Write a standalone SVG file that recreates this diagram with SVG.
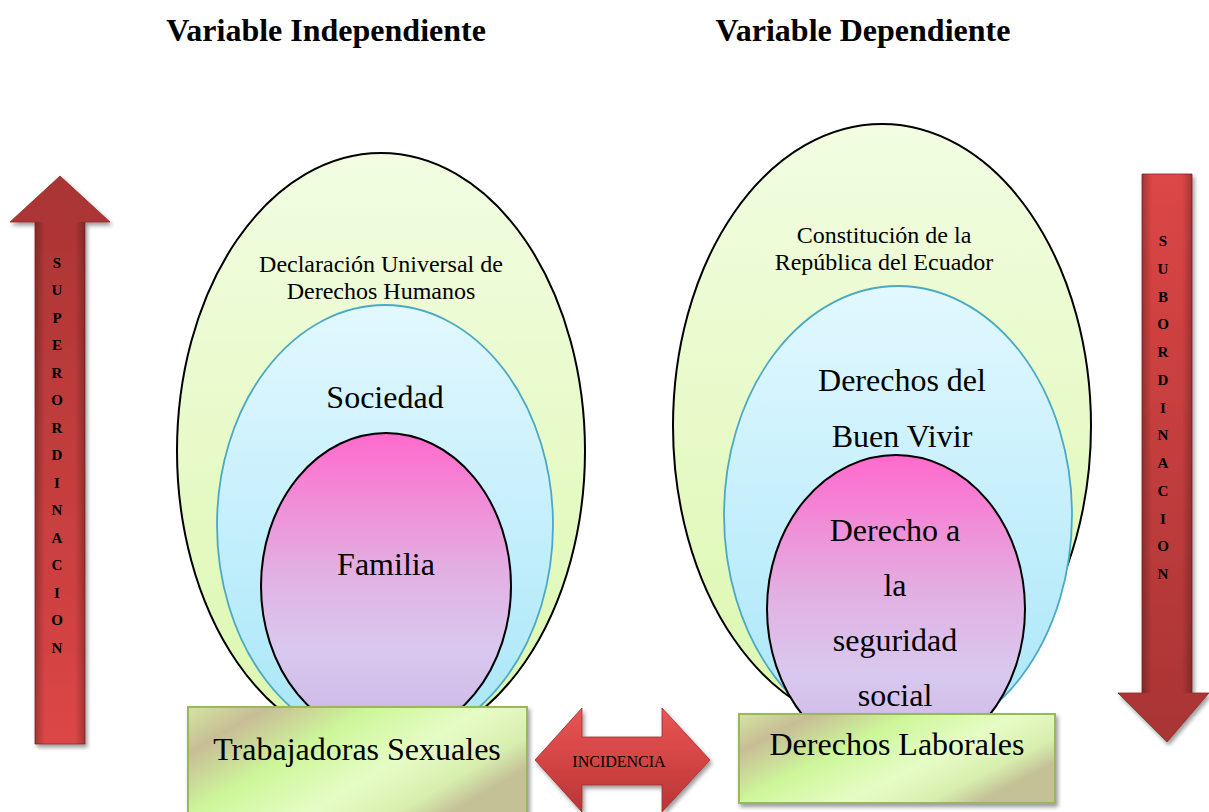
<svg xmlns="http://www.w3.org/2000/svg" width="1209" height="812" viewBox="0 0 1209 812">
<style>
.t{font-family:"Liberation Serif";fill:#000;}
.title{font-size:32px;font-weight:bold;}
.sm{font-size:24px;}
.lg{font-size:32px;}
.let{font-size:15px;font-weight:bold;text-anchor:middle;}
.inc{font-size:16px;}
.mid{text-anchor:middle;}
.og{fill:url(#gGreen);stroke:#000;stroke-width:2;}
.ob{fill:url(#gBlue);stroke:#4ba9c6;stroke-width:1.8;}
.op{fill:url(#gPink);stroke:#000;stroke-width:2;}
.bx{fill:url(#gBox);stroke:#98b954;stroke-width:2;}
</style>
<defs>
<linearGradient id="gGreen" x1="0" y1="0" x2="0" y2="1">
<stop offset="0" stop-color="#f2fde2"/><stop offset="1" stop-color="#dcf7ae"/>
</linearGradient>
<linearGradient id="gBlue" x1="0" y1="0" x2="0" y2="1">
<stop offset="0" stop-color="#e2f8ff"/><stop offset="1" stop-color="#a8e6f8"/>
</linearGradient>
<linearGradient id="gPink" x1="0" y1="0" x2="0" y2="1">
<stop offset="0" stop-color="#ff6acc"/><stop offset="0.45" stop-color="#e2b0e2"/><stop offset="0.7" stop-color="#d9c8ee"/><stop offset="1" stop-color="#cbb6e6"/>
</linearGradient>
<linearGradient id="gBox" x1="0" y1="0" x2="1" y2="0.55">
<stop offset="0" stop-color="#d3e6a0"/><stop offset="0.18" stop-color="#c8bd96"/><stop offset="0.42" stop-color="#cdf79a"/><stop offset="0.68" stop-color="#e6fcc6"/><stop offset="0.88" stop-color="#d8eeae"/><stop offset="1" stop-color="#c4c197"/>
</linearGradient>
<linearGradient id="gUp" x1="0" y1="0" x2="0" y2="1">
<stop offset="0" stop-color="#a93434"/><stop offset="1" stop-color="#dc4646"/>
</linearGradient>
<linearGradient id="gDown" x1="0" y1="0" x2="0" y2="1">
<stop offset="0" stop-color="#dc4646"/><stop offset="1" stop-color="#a93434"/>
</linearGradient>
<linearGradient id="gShaft" x1="0" y1="0" x2="1" y2="0">
<stop offset="0" stop-color="#000" stop-opacity="0.25"/><stop offset="0.2" stop-color="#000" stop-opacity="0"/><stop offset="0.8" stop-color="#000" stop-opacity="0"/><stop offset="1" stop-color="#000" stop-opacity="0.25"/>
</linearGradient>
<linearGradient id="gInc" x1="0" y1="0" x2="0" y2="1">
<stop offset="0" stop-color="#e85656"/><stop offset="0.5" stop-color="#d44444"/><stop offset="1" stop-color="#b83636"/>
</linearGradient>
<filter id="sh" x="-10%" y="-10%" width="130%" height="130%">
<feDropShadow dx="2" dy="3" stdDeviation="2" flood-color="#000" flood-opacity="0.4"/>
</filter>
</defs>

<text class="t title" x="326" y="41" text-anchor="middle">Variable Independiente</text>
<text class="t title" x="863" y="41" text-anchor="middle">Variable Dependiente</text>

<g id="left-outer">
<ellipse class="og" cx="381" cy="451" rx="204" ry="298"/>
<text class="t sm mid" x="381" y="272">Declaración Universal de</text>
<text class="t sm mid" x="381" y="299">Derechos Humanos</text>
</g>
<g id="left-middle">
<ellipse class="ob" cx="385" cy="525" rx="168" ry="220"/>
<text class="t lg mid" x="385" y="408">Sociedad</text>
</g>
<g id="left-inner">
<ellipse class="op" cx="386" cy="586" rx="125" ry="153"/>
<text class="t lg mid" x="386" y="575">Familia</text>
</g>

<g id="right-outer">
<ellipse class="og" cx="882" cy="426" rx="209" ry="302"/>
<text class="t sm mid" x="884" y="243">Constitución de la</text>
<text class="t sm mid" x="884" y="270">República del Ecuador</text>
</g>
<g id="right-middle">
<ellipse class="ob" cx="898" cy="515" rx="174" ry="229"/>
<text class="t lg mid" x="902" y="391">Derechos del</text>
<text class="t lg mid" x="902" y="447">Buen Vivir</text>
</g>
<g id="right-inner">
<ellipse class="op" cx="896" cy="609" rx="129" ry="154"/>
<text class="t lg mid" x="895" y="541">Derecho a</text>
<text class="t lg mid" x="895" y="596">la</text>
<text class="t lg mid" x="895" y="651">seguridad</text>
<text class="t lg mid" x="895" y="706">social</text>
</g>

<g id="box-left">
<rect class="bx" x="188" y="707" width="339" height="110" filter="url(#sh)"/>
<text class="t lg mid" x="357" y="760">Trabajadoras Sexuales</text>
</g>
<g id="box-right">
<rect class="bx" x="739" y="714" width="316" height="89" filter="url(#sh)"/>
<text class="t lg mid" x="897" y="755">Derechos Laborales</text>
</g>

<g id="connectors">
<g id="arrow-up">
<path d="M60,176 L110,222 L85,222 L85,744 L35,744 L35,222 L10,222 Z" fill="url(#gUp)" stroke="#8e2a2a" stroke-width="0.8" filter="url(#sh)"/>
<rect x="35" y="222" width="50" height="522" fill="url(#gShaft)"/>
<text class="t let" x="57" y="268">S</text>
<text class="t let" x="57" y="295">U</text>
<text class="t let" x="57" y="323">P</text>
<text class="t let" x="57" y="350">E</text>
<text class="t let" x="57" y="378">R</text>
<text class="t let" x="57" y="405">O</text>
<text class="t let" x="57" y="433">R</text>
<text class="t let" x="57" y="460">D</text>
<text class="t let" x="57" y="488">I</text>
<text class="t let" x="57" y="515">N</text>
<text class="t let" x="57" y="543">A</text>
<text class="t let" x="57" y="570">C</text>
<text class="t let" x="57" y="598">I</text>
<text class="t let" x="57" y="625">O</text>
<text class="t let" x="57" y="653">N</text>
</g>
<g id="arrow-down">
<path d="M1142,174 L1192,174 L1192,693 L1209,693 L1167,742 L1118,693 L1142,693 Z" fill="url(#gDown)" stroke="#8e2a2a" stroke-width="0.8" filter="url(#sh)"/>
<rect x="1142" y="174" width="50" height="519" fill="url(#gShaft)"/>
<text class="t let" x="1163" y="246">S</text>
<text class="t let" x="1163" y="274">U</text>
<text class="t let" x="1163" y="302">B</text>
<text class="t let" x="1163" y="329">O</text>
<text class="t let" x="1163" y="357">R</text>
<text class="t let" x="1163" y="385">D</text>
<text class="t let" x="1163" y="413">I</text>
<text class="t let" x="1163" y="440">N</text>
<text class="t let" x="1163" y="468">A</text>
<text class="t let" x="1163" y="496">C</text>
<text class="t let" x="1163" y="524">I</text>
<text class="t let" x="1163" y="551">O</text>
<text class="t let" x="1163" y="579">N</text>
</g>
<g id="arrow-incidencia">
<path d="M535,760 L582,708 L582,737 L662,737 L662,708 L710,760 L662,812 L662,785 L582,785 L582,812 Z" fill="url(#gInc)" stroke="#9c2e2e" stroke-width="0.8" filter="url(#sh)"/>
<text class="t inc mid" x="619" y="767">INCIDENCIA</text>
</g>
</g>
</svg>
